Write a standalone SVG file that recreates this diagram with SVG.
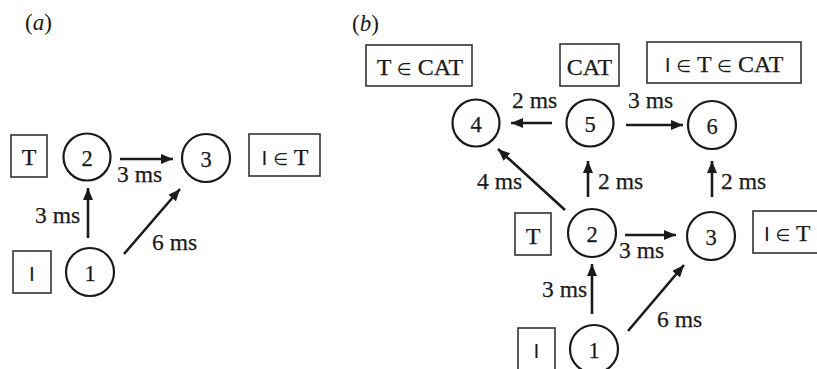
<svg xmlns="http://www.w3.org/2000/svg" width="817" height="369" viewBox="0 0 817 369">
  <defs>
    <marker id="head" viewBox="0 0 12 10" refX="12" refY="5" markerWidth="12" markerHeight="10" markerUnits="userSpaceOnUse" orient="auto">
      <path d="M0,0 L12,5 L0,10 Z" fill="#1a1a1a"/>
    </marker>
  </defs>
  <style>
    text { font-family: "Liberation Serif", "Times New Roman", serif; font-size: 23.5px; fill: #1a1a1a; stroke: #1a1a1a; stroke-width: 0.25; }
    .num { text-anchor: middle; font-size: 22.5px; }
    .lab { text-anchor: middle; font-size: 24px; }
    .i { font-family: "Liberation Sans", Arial, sans-serif; font-size: 21px; stroke-width: 0; }
    .el { font-family: "DejaVu Sans", sans-serif; font-size: 17px; stroke-width: 0; }
    .panel { font-size: 23px; stroke-width: 0; }
    .node circle { fill: none; stroke: #1a1a1a; stroke-width: 2.2; }
    .box rect { fill: none; stroke: #333; stroke-width: 1.6; }
    .edges line { stroke: #1a1a1a; stroke-width: 2.6; marker-end: url(#head); }
  </style>
  <rect width="817" height="369" fill="#fff"/>

  <!-- panel labels -->
  <text class="panel" x="25" y="30">(<tspan font-style="italic">a</tspan>)</text>
  <text class="panel" x="352" y="31">(<tspan font-style="italic">b</tspan>)</text>

  <!-- panel (a) -->
  <g id="a-box-T" class="box"><rect x="11" y="135" width="36" height="42"/><text class="lab" x="29" y="165">T</text></g>
  <g id="a-box-IT" class="box"><rect x="249" y="134" width="71" height="42"/><text class="lab" x="285" y="165"><tspan class="i">I</tspan> <tspan class="el">∈</tspan> T</text></g>
  <g id="a-box-I" class="box"><rect x="13" y="251" width="38" height="42"/><text class="lab i" x="32" y="281">I</text></g>
  <g id="a-n1" class="node"><circle cx="90" cy="272" r="24"/><text class="num" x="90" y="281">1</text></g>
  <g id="a-n2" class="node"><circle cx="87" cy="157" r="23.5"/><text class="num" x="87" y="166">2</text></g>
  <g id="a-n3" class="node"><circle cx="206" cy="158" r="24"/><text class="num" x="206" y="167">3</text></g>
  <g id="a-edges" class="edges">
    <line x1="88" y1="238" x2="88" y2="188"/>
    <line x1="124" y1="254" x2="180" y2="189"/>
    <line x1="120" y1="159" x2="173" y2="159"/>
  </g>
  <g id="a-edge-labels">
    <text x="35" y="223">3 ms</text>
    <text x="152" y="250">6 ms</text>
    <text x="117" y="182">3 ms</text>
  </g>

  <!-- panel (b) -->
  <g id="b-box-TCAT" class="box"><rect x="366" y="45" width="106" height="41"/><text class="lab" x="420" y="75">T <tspan class="el">∈</tspan> CAT</text></g>
  <g id="b-box-CAT" class="box"><rect x="560" y="44" width="59" height="42"/><text class="lab" x="589.5" y="75">CAT</text></g>
  <g id="b-box-ITCAT" class="box"><rect x="647" y="42" width="154" height="41"/><text class="lab" x="724" y="72"><tspan class="i">I</tspan> <tspan class="el">∈</tspan> T <tspan class="el">∈</tspan> CAT</text></g>
  <g id="b-box-T" class="box"><rect x="515" y="213" width="36" height="42"/><text class="lab" x="533" y="244">T</text></g>
  <g id="b-box-IT" class="box"><rect x="753" y="211" width="80" height="42"/><text x="764" y="241"><tspan class="i">I</tspan> <tspan class="el">∈</tspan> T</text></g>
  <g id="b-box-I" class="box"><rect x="518" y="328" width="37" height="50"/><text class="lab i" x="536.5" y="358">I</text></g>

  <g id="b-n1" class="node"><circle cx="594" cy="349" r="24"/><text class="num" x="594" y="358">1</text></g>
  <g id="b-n2" class="node"><circle cx="592" cy="233" r="24"/><text class="num" x="592" y="242">2</text></g>
  <g id="b-n3" class="node"><circle cx="711" cy="236" r="24"/><text class="num" x="711" y="245">3</text></g>
  <g id="b-n4" class="node"><circle cx="476" cy="123" r="23.5"/><text class="num" x="476" y="132">4</text></g>
  <g id="b-n5" class="node"><circle cx="590" cy="123" r="23.5"/><text class="num" x="590" y="132">5</text></g>
  <g id="b-n6" class="node"><circle cx="712" cy="125" r="24"/><text class="num" x="712" y="134">6</text></g>

  <g id="b-edges" class="edges">
    <line x1="592" y1="314" x2="592" y2="264"/>
    <line x1="628" y1="331" x2="684" y2="265"/>
    <line x1="625" y1="235" x2="676" y2="235"/>
    <line x1="565" y1="210" x2="498" y2="149"/>
    <line x1="588" y1="197" x2="588" y2="161"/>
    <line x1="712" y1="197" x2="712" y2="161"/>
    <line x1="552" y1="123" x2="511" y2="123"/>
    <line x1="626" y1="125" x2="683" y2="125"/>
  </g>
  <g id="b-edge-labels">
    <text x="542" y="297">3 ms</text>
    <text x="657" y="327">6 ms</text>
    <text x="619" y="258">3 ms</text>
    <text x="477" y="189">4 ms</text>
    <text x="598" y="189">2 ms</text>
    <text x="721" y="189">2 ms</text>
    <text x="512" y="108">2 ms</text>
    <text x="628" y="108">3 ms</text>
  </g>
</svg>
